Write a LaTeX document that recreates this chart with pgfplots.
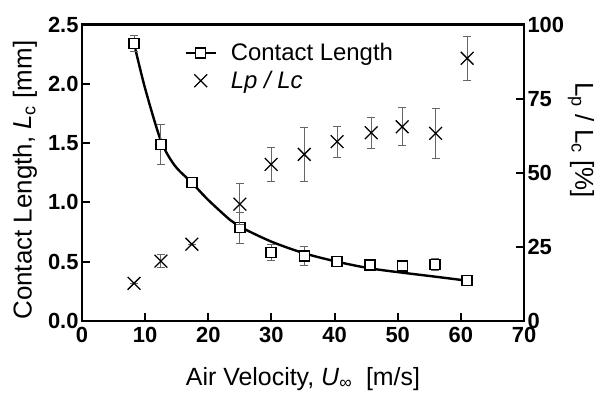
\documentclass[border=0pt]{standalone}
\usepackage{pgfplots}
\pgfplotsset{compat=1.18}
\usepackage{fontspec}
\setmainfont{Liberation Sans}
\begin{document}
\begin{tikzpicture}
\pgfplotsset{every axis/.append style={
  width=442bp, height=296.5bp, scale only axis,
  xmin=0, xmax=70,
  axis line style={line width=2.2bp},
  tick style={line width=2bp, black},
  major tick length=8bp,
  tick align=inside,
  tick label style={font=\fontsize{22}{24}\selectfont\bfseries},
  label style={font=\fontsize{26}{28}\selectfont},
  /pgf/number format/assume math mode=true,
}}
\begin{axis}[name=main,
  ymin=0, ymax=2.5,
  ytick={0,0.5,1,1.5,2,2.5},
  yticklabel style={/pgf/number format/.cd, fixed, fixed zerofill, precision=1},
  xtick={0,10,...,70},
  xticklabel style={yshift=-3bp},
  xtick pos=left, ytick pos=left,
  xlabel={Air Velocity, \textit{U}\textsubscript{∞}\ \ [m/s]},
  xlabel style={at={(axis description cs:0.5,-0.216)}, anchor=base, font=\fontsize{25}{27}\selectfont},
  ylabel={Contact Length, \textit{L}\textsubscript{c} [mm]},
  ylabel style={at={(axis description cs:-0.129,0.475)}, anchor=center},
  legend style={at={(axis description cs:0.225,0.95)}, anchor=north west, draw=none, fill=none,
    font=\fontsize{24}{28}\selectfont, row sep=5bp, column sep=12bp},
  legend cell align=left,
]
\addlegendimage{legend image code/.code={
  \draw[black, line width=2.2bp] (0bp,0bp) -- (30bp,0bp);
  \draw[black, line width=1.4bp, fill=white] (10bp,-5bp) rectangle (20bp,5bp);}}
\addlegendentry{Contact Length}
\addlegendimage{legend image code/.code={
  \draw[black, line width=1.3bp] (15bp,0bp) ++(-6.4bp,-6.4bp) -- ++(12.8bp,12.8bp) ++(0,-12.8bp) -- ++(-12.8bp,12.8bp);}}
\addlegendentry{\textit{Lp / Lc}}
% fitted curve
\addplot[black, line width=2.4bp, smooth, forget plot] coordinates {
(8.24,2.34) (10,1.96) (12.5,1.52) (14.7,1.31) (17.4,1.166) (20,1.02) (23.45,0.852) (25,0.795)
(30,0.669) (35.2,0.571) (40.4,0.50) (45.6,0.444) (50.8,0.407) (55.9,0.374) (61,0.34)};
% contact length data
\addplot[black, only marks, mark=square*, mark size=5bp, mark options={fill=white, line width=1.4bp}, forget plot,
  error bars/.cd, y dir=both, y explicit,
  error bar style={gray!80!black, line width=1bp},
  error mark options={rotate=90, gray!80!black, mark size=4bp, line width=1bp}]
coordinates {
(8.24,2.34) +- (0,0.07)
(12.5,1.49) +- (0,0.17)
(17.4,1.166) +- (0,0.0)
(25.0,0.787) +- (0,0.13)
(29.95,0.579) +- (0,0.067)
(35.2,0.548) +- (0,0.08)
(40.4,0.50) +- (0,0.01)
(45.6,0.472) +- (0,0.01)
(50.8,0.464) +- (0,0.035)
(55.9,0.478) +- (0,0.05)
(61.0,0.34) +- (0,0.0)
};
\end{axis}
\begin{axis}[
  ymin=0, ymax=100,
  ytick={0,25,50,75,100},
  axis y line*=right, axis x line=none,
  ylabel={L\textsubscript{p} / L\textsubscript{c} [\%]},
  ylabel style={at={(axis description cs:1.129,0.61)}, anchor=center, rotate=180},
]
\addplot[black, only marks, mark=x, mark size=9bp, mark options={line width=1.3bp},
  error bars/.cd, y dir=both, y explicit,
  error bar style={gray!80!black, line width=1bp},
  error mark options={rotate=90, gray!80!black, mark size=4bp, line width=1bp}]
coordinates {
(8.24,12.7) +- (0,0)
(12.5,20.2) +- (0,2.3)
(17.4,25.9) +- (0,0)
(25.0,39.4) +- (0,7)
(29.95,52.8) +- (0,5.8)
(35.2,56.2) +- (0,9)
(40.4,60.5) +- (0,5.2)
(45.8,63.5) +- (0,5.2)
(50.7,65.5) +- (0,6.4)
(56.0,63.3) +- (0,8.4)
(61.0,88.6) +- (0,7.4)
};
\end{axis}
\path ([shift={(-82bp,-67bp)}]main.south west) rectangle ([shift={(79bp,24.5bp)}]main.north east);
\end{tikzpicture}
\end{document}
